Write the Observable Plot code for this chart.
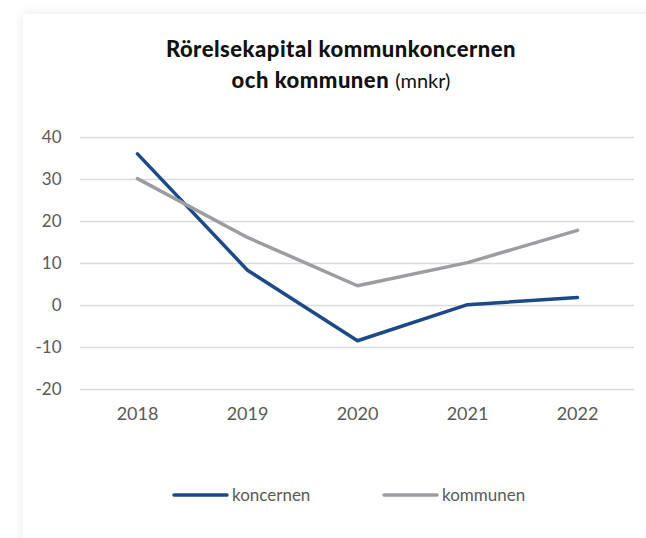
<!DOCTYPE html>
<html>
<head>
<meta charset="utf-8">
<script src="https://cdn.jsdelivr.net/npm/d3@7"></script>
<script src="https://cdn.jsdelivr.net/npm/@observablehq/plot@0.6"></script>
<style>
  html, body { margin: 0; padding: 0; background: #ffffff; }
  body { width: 646px; height: 538px; position: relative; overflow: hidden; font-family: Lato, "Noto Sans", sans-serif; }
  .panel { position: absolute; left: 23px; top: 14px; width: 700px; height: 600px; background: #fff; box-shadow: 0 0 10px rgba(0,0,0,0.10); }
  .title { position: absolute; left: 0; top: 33px; width: 682px; text-align: center; font-size: 22px; line-height: 31px; color: #111; letter-spacing: 0.5px; }
  .title b { font-weight: 900; }
  .title span { font-weight: 400; font-size: 20px; letter-spacing: 0; }
  #chart { position: absolute; left: 0; top: 120px; }
  .legend-item { position: absolute; top: 484px; display: flex; align-items: center; font-size: 17px; color: #595959; }
  .legend-item svg { margin-right: 3px; }
</style>
</head>
<body>
<div class="panel"></div>
<div class="title"><b>Rörelsekapital kommunkoncernen</b><br><b>och kommunen</b> <span>(mnkr)</span></div>
<div id="chart"></div>
<div id="legend"></div>
<script>
const years = ["2018", "2019", "2020", "2021", "2022"];
const koncernen = [36.1, 8.4, -8.4, 0.2, 1.9];
const kommunen = [30.2, 16.2, 4.7, 10.2, 17.9];
const yTicks = [-20, -10, 0, 10, 20, 30, 40];
const seriesNames = ["koncernen", "kommunen"];
const seriesColors = ["#1c4a87", "#9b9da2"];

const rows = [];
years.forEach((yr, i) => {
  rows.push({year: yr, value: koncernen[i], series: seriesNames[0]});
  rows.push({year: yr, value: kommunen[i], series: seriesNames[1]});
});

const chart = Plot.plot({
  width: 646,
  height: 310,
  marginTop: 17,
  marginBottom: 41,
  marginLeft: 80,
  marginRight: 12,
  style: {fontFamily: "Lato, 'Noto Sans', sans-serif", color: "#595959", background: "transparent"},
  x: {type: "point", domain: years, padding: 0.5, label: null},
  y: {domain: [-20, 40], label: null},
  color: {domain: seriesNames, range: seriesColors},
  marks: [
    Plot.gridY(yTicks, {stroke: "#d9d9d9", strokeOpacity: 1, strokeWidth: 1.5}),
    Plot.axisX({tickSize: 0, tickPadding: 18, fontSize: 18, fill: "#595959"}),
    Plot.axisY(yTicks, {tickSize: 0, tickPadding: 19, fontSize: 17, fill: "#595959", tickFormat: d => d}),
    Plot.line(rows, {x: "year", y: "value", z: "series", stroke: "series", strokeWidth: 3.5, strokeLinecap: "round", strokeLinejoin: "round"})
  ]
});
document.getElementById("chart").appendChild(chart);

const legendLefts = [172, 382];
const legend = document.getElementById("legend");
seriesNames.forEach((name, i) => {
  const item = document.createElement("div");
  item.className = "legend-item";
  item.style.left = legendLefts[i] + "px";
  item.innerHTML = `<svg width="57" height="8"><line x1="2" y1="4" x2="55" y2="4" stroke="${seriesColors[i]}" stroke-width="3.5" stroke-linecap="round"/></svg><span>${name}</span>`;
  legend.appendChild(item);
});
</script>
</body>
</html>
